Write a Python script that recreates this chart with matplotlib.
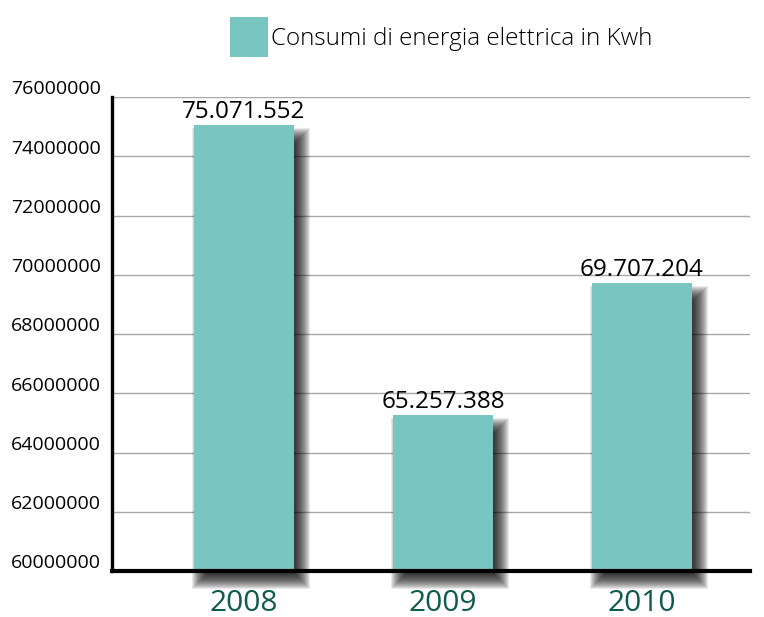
import matplotlib
matplotlib.use('Agg')
import matplotlib.pyplot as plt
from matplotlib.patches import Rectangle
from matplotlib.transforms import ScaledTranslation

# Annual electricity consumption
years = ['2008', '2009', '2010']
consumption = [75071552, 65257388, 69707204]
y_ticks = [60000000, 62000000, 64000000, 66000000, 68000000,
           70000000, 72000000, 74000000, 76000000]
legend_label = 'Consumi di energia elettrica in Kwh'

bar_color = '#79c5c1'
year_color = '#0e5a4f'
base = 60000000
bar_w = 0.5

fig = plt.figure(figsize=(7.64, 6.17), dpi=100)
ax = fig.add_axes([112 / 764, 1 - 571 / 617, 638 / 764, 474 / 617])
ax.set_xlim(-0.663, 2.543)
ax.set_ylim(base, 76000000)

x = list(range(len(years)))
bars = ax.bar(x, [v - base for v in consumption], width=bar_w, bottom=base,
              color=bar_color, zorder=2)

# soft drop shadow: stacked translucent rectangles, sizes in pixels
px_x = (2.543 + 0.663) / 638
px_y = 16000000 / 474
for xi, v in zip(x, consumption):
    x0 = xi - bar_w / 2 + 7 * px_x
    y0 = base - 9 * px_y
    h = v - base - 3 * px_y
    for g in range(-9, 10):
        ax.add_patch(Rectangle((x0 - g * px_x, y0 - g * px_y),
                               bar_w + 2 * g * px_x, h + 2 * g * px_y,
                               facecolor='black', edgecolor='none',
                               alpha=0.085, zorder=1, clip_on=False))

for xi, v in zip(x, consumption):
    ax.text(xi, v + 1 * px_y, f'{v:,}'.replace(',', '.'), ha='center',
            va='bottom', fontsize=17.5, family='Open Sans', color='black',
            zorder=3)

ax.set_yticks(y_ticks)
ax.set_yticklabels([str(t) for t in y_ticks], fontsize=14,
                   family='Open Sans')
ax.tick_params(axis='y', length=0, pad=8)
for lab in ax.get_yticklabels():
    lab.set_transform(lab.get_transform() +
                      ScaledTranslation(0, 7 / 72, fig.dpi_scale_trans))

ax.set_xticks(x)
ax.set_xticklabels(years, fontsize=21.5, family='Open Sans', color=year_color)
ax.tick_params(axis='x', length=0, pad=13)

ax.grid(axis='y', color='#a8a8a8', linewidth=1.0)
ax.set_axisbelow(True)
for side in ['top', 'right']:
    ax.spines[side].set_visible(False)
ax.spines['left'].set_linewidth(2.4)
ax.spines['bottom'].set_linewidth(3.0)
ax.spines['left'].set_zorder(4)
ax.spines['bottom'].set_zorder(4)

fig.legend([bars], [legend_label], loc='center left',
           bbox_to_anchor=(230 / 764, 1 - 37 / 617), frameon=False,
           prop={'family': 'Open Sans', 'size': 17.5, 'weight': 'light'},
           handlelength=1.55, handleheight=2.15, handletextpad=0.15,
           borderpad=0, borderaxespad=0)

fig.savefig('out.png', dpi=100)
